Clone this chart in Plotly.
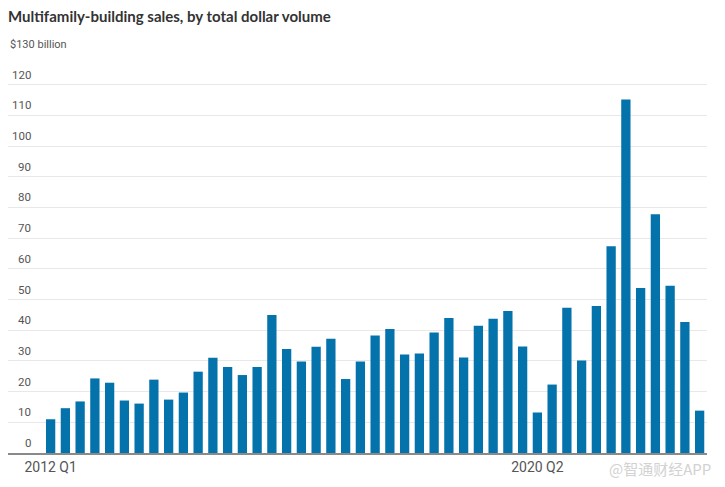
import plotly.graph_objects as go

quarters_idx = list(range(45))
values = [11, 14.6, 16.8, 24.3, 22.9, 17.1, 16.1, 23.9, 17.4, 19.7,
          26.5, 31.0, 28.0, 25.4, 28.0, 45.0, 33.9, 29.8, 34.6, 37.2,
          24.1, 29.8, 38.3, 40.4, 32.1, 32.4, 39.3, 44.0, 31.1, 41.5,
          43.7, 46.3, 34.7, 13.2, 22.3, 47.3, 30.1, 47.9, 67.4, 115.2,
          53.8, 77.8, 54.5, 42.7, 13.8]
x_tick_vals = [0, 33]
x_tick_text = ["2012 Q1", "2020 Q2"]
y_tick_vals = [0, 10, 20, 30, 40, 50, 60, 70, 80, 90, 100, 110, 120, 130]
y_tick_text = ["0", "10", "20", "30", "40", "50", "60", "70", "80", "90",
               "100", "110", "120", "$130 billion"]

LABEL_FONT = "Roboto, sans-serif"
PLOT_W = 699

fig = go.Figure()
fig.add_trace(go.Bar(x=quarters_idx, y=values, marker_color="#0573ab",
                     marker_line_width=0, width=0.63))

annotations = []
for v, t in zip(y_tick_vals, y_tick_text):
    if t.startswith("$"):
        annotations.append(dict(x=0, xref="paper", xanchor="left", y=v, yref="y",
                                yanchor="bottom", yshift=1, text=t, showarrow=False,
                                font=dict(family=LABEL_FONT, size=11, color="#555")))
    else:
        annotations.append(dict(x=25 / PLOT_W, xref="paper", xanchor="right", y=v, yref="y",
                                yanchor="bottom", yshift=1, text=t, showarrow=False,
                                font=dict(family=LABEL_FONT, size=11.5, color="#555")))

annotations.append(dict(x=1.008, xref="paper", xanchor="right", y=-0.038, yref="paper",
                        yanchor="middle", text="@智通财经APP", showarrow=False,
                        font=dict(family="Noto Sans CJK SC", size=15, color="#d2d2d2")))

fig.update_layout(
    width=717, height=479,
    margin=dict(l=0, r=18, t=46, b=34),
    paper_bgcolor="white", plot_bgcolor="white",
    showlegend=False,
    title=dict(text="<b>Multifamily-building sales, by total dollar volume</b>",
               x=0, xanchor="left", y=1 - 9 / 479, yanchor="middle",
               font=dict(family="Lato, sans-serif", size=15, color="#333")),
    xaxis=dict(range=[-2.89, 44.5], tickmode="array", tickvals=x_tick_vals,
               ticktext=x_tick_text, showgrid=False, zeroline=False,
               showline=True, linecolor="#8a8a8a", linewidth=2, ticks="",
               tickfont=dict(family=LABEL_FONT, size=14, color="#555")),
    yaxis=dict(range=[0, 130], tickmode="array", tickvals=y_tick_vals,
               showticklabels=False, showgrid=True, gridcolor="#e8e8e8",
               gridwidth=1, zeroline=False),
    annotations=annotations,
    bargap=0.37,
)
fig.write_html("out.html")
